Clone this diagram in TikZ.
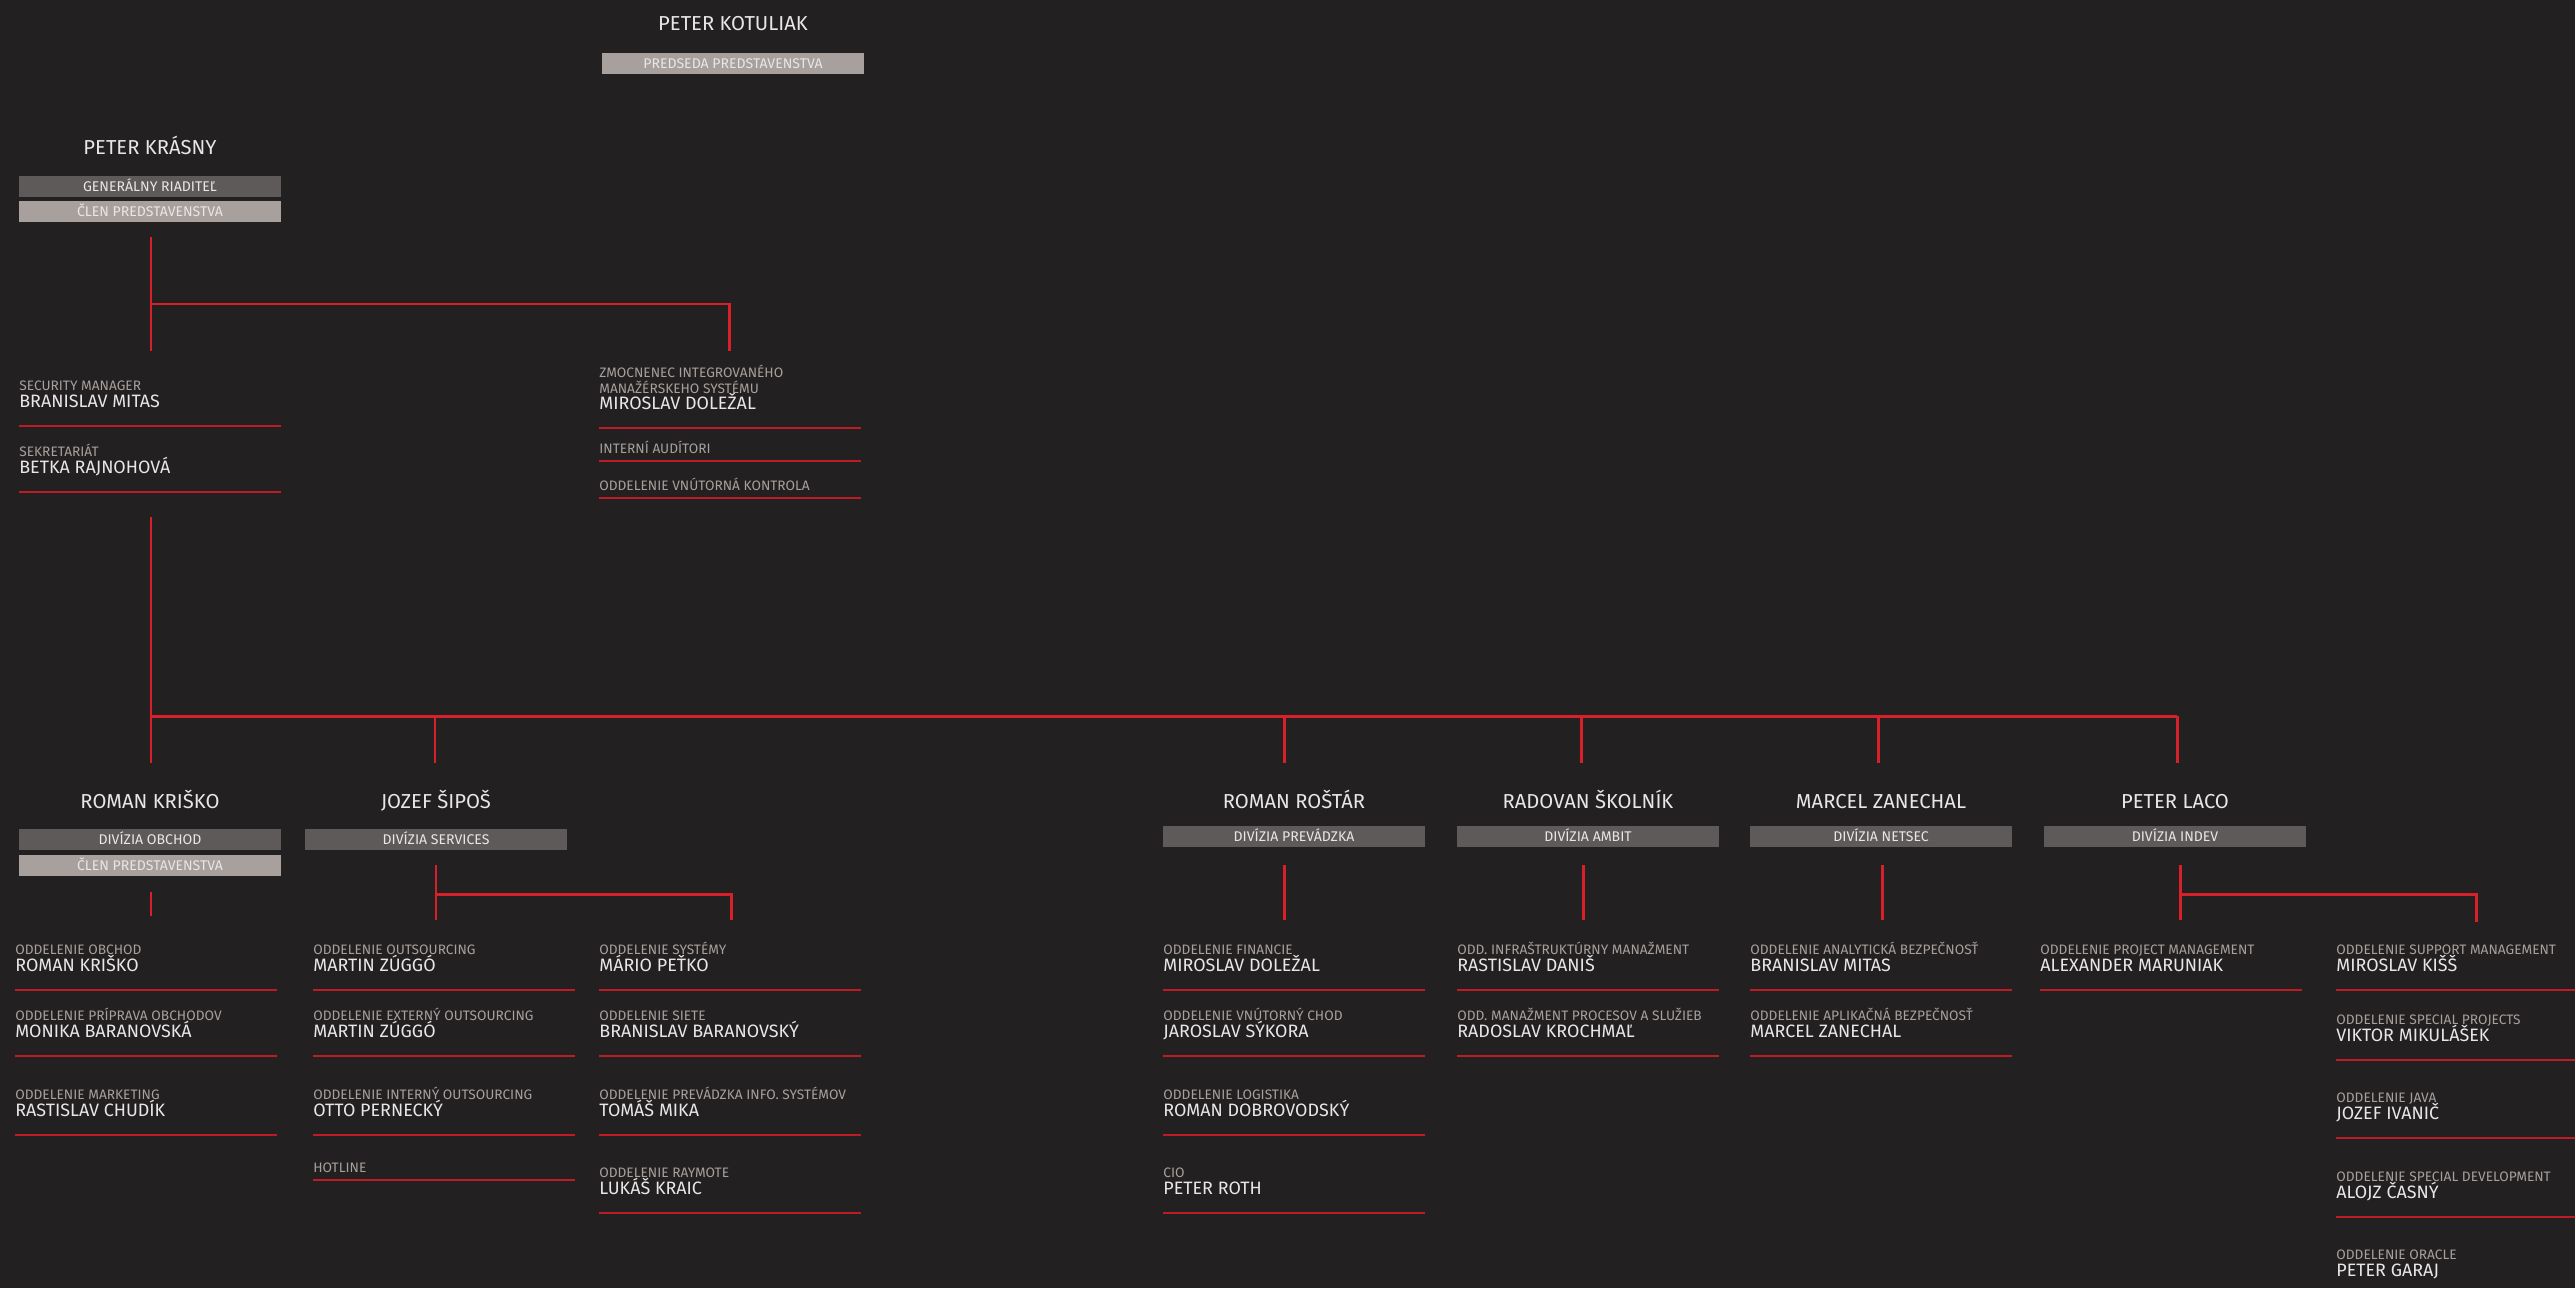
\documentclass[tikz,border=0pt]{standalone}
\usepackage{fontspec}
\setmainfont{Fira Sans}

\definecolor{pozadie}{HTML}{222021}
\definecolor{tmavasiva}{HTML}{5F5A5A}
\definecolor{svetlasiva}{HTML}{A8A09C}
\definecolor{cervena}{HTML}{D8202A}
\definecolor{biela}{HTML}{E8E6E6}

%	oddelenie: id, x, y, nazov, meno
\newcommand{\oddel}[5]{%
	\node[kat] (#1-k) at (#2, #3+5) {#4};
	\node[meno] (#1-m) at (#2, #3+22) {#5};
	\draw[linka] (#2, #3+41) -- ++(262, 0);
}
%	oddelenie bez mena: id, x, y, nazov
\newcommand{\oddelkat}[4]{%
	\node[kat] (#1-k) at (#2, #3+5) {#4};
	\draw[linka] (#2, #3+13) -- ++(262, 0);
}

\begin{document}
\begin{tikzpicture}[x = 0.02cm, y = -0.02cm,
	hlava/.style = {anchor = base, inner sep = 0pt, text = biela, font = \fontsize{11.5}{14}\selectfont},
	meno/.style = {anchor = base west, inner sep = 0pt, text = biela, font = \fontsize{10.2}{12}\selectfont},
	kat/.style = {anchor = base west, inner sep = 0pt, text = svetlasiva, font = \fontsize{7.8}{9.4}\selectfont},
	funkcia/.style = {minimum width = 5.24cm, minimum height = 0.42cm, inner sep = 0pt, text height = 5.5pt, text depth = 0pt, text = biela, font = \fontsize{8}{10}\selectfont},
	tmava/.style = {funkcia, fill = tmavasiva},
	svetla/.style = {funkcia, fill = svetlasiva},
	spoj/.style = {cervena, line width = 1.7pt},
	linka/.style = {cervena!88!black, line width = 1.1pt}]
	%	pozadie
	\useasboundingbox (0, 0) rectangle (2575, 1288);
	\fill[pozadie] (0, 0) rectangle (2575, 1288);
	\clip (0, 0) rectangle (2575, 1288);
	
	%	predstavenstvo
	\node[hlava] (kotuliak) at (733, 31) {PETER KOTULIAK};
	\node[svetla] (kotuliak-f) at (733, 63.5) {PREDSEDA PREDSTAVENSTVA};
	
	\node[hlava] (krasny) at (150, 154) {PETER KRÁSNY};
	\node[tmava] (krasny-f1) at (150, 186.5) {GENERÁLNY RIADITEĽ};
	\node[svetla] (krasny-f2) at (150, 211.5) {ČLEN PREDSTAVENSTVA};
	
	%	vedenie
	\coordinate (k1) at (151, 237);
	\coordinate (k2) at (151, 304);
	\coordinate (k3) at (151, 351);
	\coordinate (z1) at (729, 304);
	\coordinate (z2) at (729, 351);
	\draw[spoj] (k1) -- (k3);
	\draw[spoj] (k2) -- (z1) -- (z2);
	
	\oddel{sec}{19}{385}{SECURITY MANAGER}{BRANISLAV MITAS}
	\oddel{sekr}{19}{451}{SEKRETARIÁT}{BETKA RAJNOHOVÁ}
	
	\node[kat] (zmoc-k1) at (599, 377) {ZMOCNENEC INTEGROVANÉHO};
	\node[kat] (zmoc-k2) at (599, 393) {MANAŽÉRSKEHO SYSTÉMU};
	\node[meno] (zmoc-m) at (599, 409) {MIROSLAV DOLEŽAL};
	\draw[linka] (599, 428) -- ++(262, 0);
	\oddelkat{audit}{599}{448}{INTERNÍ AUDÍTORI}
	\oddelkat{kontrola}{599}{485}{ODDELENIE VNÚTORNÁ KONTROLA}
	
	%	divizie
	\coordinate (t1) at (151, 517);
	\coordinate (t2) at (151, 716);
	\coordinate (t3) at (2177, 716);
	\draw[spoj] (t1) -- (t2) -- (t3);
	\foreach \x [count = \i] in {151, 435, 1284, 1581, 1878, 2177}{
		\coordinate (d\i) at (\x, 763);
		\draw[spoj] (d\i |- t2) -- (d\i);
	}
	
	\node[hlava] (krisko) at (150, 808) {ROMAN KRIŠKO};
	\node[tmava] (krisko-f1) at (150, 839.5) {DIVÍZIA OBCHOD};
	\node[svetla] (krisko-f2) at (150, 865.5) {ČLEN PREDSTAVENSTVA};
	\node[hlava] (sipos) at (436, 808) {JOZEF ŠIPOŠ};
	\node[tmava] (sipos-f) at (436, 839.5) {DIVÍZIA SERVICES};
	\node[hlava] (rostar) at (1294, 808) {ROMAN ROŠTÁR};
	\node[tmava] (rostar-f) at (1294, 836.5) {DIVÍZIA PREVÁDZKA};
	\node[hlava] (skolnik) at (1588, 808) {RADOVAN ŠKOLNÍK};
	\node[tmava] (skolnik-f) at (1588, 836.5) {DIVÍZIA AMBIT};
	\node[hlava] (zanechal) at (1881, 808) {MARCEL ZANECHAL};
	\node[tmava] (zanechal-f) at (1881, 836.5) {DIVÍZIA NETSEC};
	\node[hlava] (laco) at (2175, 808) {PETER LACO};
	\node[tmava] (laco-f) at (2175, 836.5) {DIVÍZIA INDEV};
	
	%	prepojenia na oddelenia
	\coordinate (r1) at (151, 892);
	\coordinate (r2) at (151, 916);
	\draw[spoj] (r1) -- (r2);
	\foreach \x [count = \i] in {436, 1284, 1583, 1882, 2180}{
		\coordinate (s\i) at (\x, 865);
		\coordinate (e\i) at (\x, 920);
		\draw[spoj] (s\i) -- (e\i);
	}
	\coordinate (v1) at (731, 894);
	\coordinate (v2) at (731, 920);
	\draw[spoj] (s1 |- v1) -- (v1) -- (v2);
	\coordinate (w1) at (2476, 894);
	\coordinate (w2) at (2476, 922);
	\draw[spoj] (s5 |- w1) -- (w1) -- (w2);
	
	%	oddelenia
	\oddel{obchod}{15}{949}{ODDELENIE OBCHOD}{ROMAN KRIŠKO}
	\oddel{priprava}{15}{1015}{ODDELENIE PRÍPRAVA OBCHODOV}{MONIKA BARANOVSKÁ}
	\oddel{marketing}{15}{1094}{ODDELENIE MARKETING}{RASTISLAV CHUDÍK}
	
	\oddel{outs}{313}{949}{ODDELENIE OUTSOURCING}{MARTIN ZÚGGÓ}
	\oddel{extouts}{313}{1015}{ODDELENIE EXTERNÝ OUTSOURCING}{MARTIN ZÚGGÓ}
	\oddel{intouts}{313}{1094}{ODDELENIE INTERNÝ OUTSOURCING}{OTTO PERNECKÝ}
	\oddelkat{hotline}{313}{1167}{HOTLINE}
	
	\oddel{systemy}{599}{949}{ODDELENIE SYSTÉMY}{MÁRIO PEŤKO}
	\oddel{siete}{599}{1015}{ODDELENIE SIETE}{BRANISLAV BARANOVSKÝ}
	\oddel{infosys}{599}{1094}{ODDELENIE PREVÁDZKA INFO. SYSTÉMOV}{TOMÁŠ MIKA}
	\oddel{raymote}{599}{1172}{ODDELENIE RAYMOTE}{LUKÁŠ KRAIC}
	
	\oddel{financie}{1163}{949}{ODDELENIE FINANCIE}{MIROSLAV DOLEŽAL}
	\oddel{chod}{1163}{1015}{ODDELENIE VNÚTORNÝ CHOD}{JAROSLAV SÝKORA}
	\oddel{logistika}{1163}{1094}{ODDELENIE LOGISTIKA}{ROMAN DOBROVODSKÝ}
	\oddel{cio}{1163}{1172}{CIO}{PETER ROTH}
	
	\oddel{infra}{1457}{949}{ODD. INFRAŠTRUKTÚRNY MANAŽMENT}{RASTISLAV DANIŠ}
	\oddel{procesy}{1457}{1015}{ODD. MANAŽMENT PROCESOV A SLUŽIEB}{RADOSLAV KROCHMAĽ}
	
	\oddel{analyt}{1750}{949}{ODDELENIE ANALYTICKÁ BEZPEČNOSŤ}{BRANISLAV MITAS}
	\oddel{aplik}{1750}{1015}{ODDELENIE APLIKAČNÁ BEZPEČNOSŤ}{MARCEL ZANECHAL}
	
	\oddel{pm}{2040}{949}{ODDELENIE PROJECT MANAGEMENT}{ALEXANDER MARUNIAK}
	
	\oddel{support}{2336}{949}{ODDELENIE SUPPORT MANAGEMENT}{MIROSLAV KIŠŠ}
	\oddel{special}{2336}{1019}{ODDELENIE SPECIAL PROJECTS}{VIKTOR MIKULÁŠEK}
	\oddel{java}{2336}{1097}{ODDELENIE JAVA}{JOZEF IVANIČ}
	\oddel{devel}{2336}{1176}{ODDELENIE SPECIAL DEVELOPMENT}{ALOJZ ČASNÝ}
	\oddel{oracle}{2336}{1254}{ODDELENIE ORACLE}{PETER GARAJ}
\end{tikzpicture}
\end{document}
